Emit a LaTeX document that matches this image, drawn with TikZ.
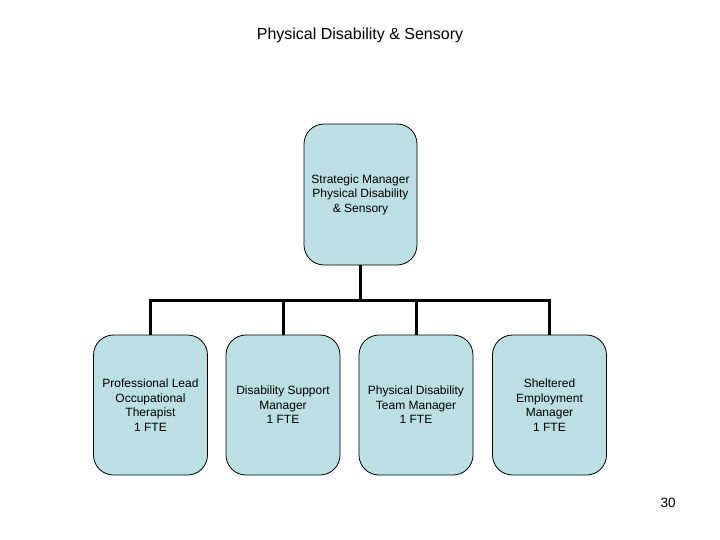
\documentclass[tikz,border=0pt]{standalone}
\usepackage{fontspec}
\setmainfont{Liberation Sans}
\usetikzlibrary{positioning, calc}
\definecolor{OrgFill}{HTML}{BBDFE3}
\definecolor{OrgLine}{HTML}{000000}

\tikzset{
  orgbox/.style={draw=OrgLine, line width=0.8pt, fill=OrgFill, rounded corners=20pt,
    minimum width=114pt, minimum height=140pt, align=center,
    font=\fontsize{12}{14.5}\selectfont, inner sep=2pt},
  orgline/.style={OrgLine, line width=3pt}
}

\begin{document}
\begin{tikzpicture}[x=1pt, y=-1pt]
  \useasboundingbox (0,0) rectangle (720,540);
  \node[font=\fontsize{16}{18}\selectfont] (title) at (360,35) {Physical Disability \& Sensory};
  \node[orgbox, minimum width=113pt, minimum height=141pt] (top) at (360.5,194.5)
    {Strategic Manager\\Physical Disability\\\& Sensory};
  \foreach \i/\xpos/\lbl in {
    1/150.5/{Professional Lead\\Occupational\\Therapist\\1 FTE},
    2/283/{Disability Support\\Manager\\1 FTE},
    3/416/{Physical Disability\\Team Manager\\1 FTE},
    4/549.5/{Sheltered\\Employment\\Manager\\1 FTE}}{
    \node[orgbox] (b\i) at (\xpos,405) {\lbl};
  }
  \coordinate (bus) at (360,300);
  \draw[orgline] (top.south) -- (top.south |- bus);
  \draw[orgline] (b1.north) -- (b1.north |- bus) -- (b4.north |- bus) -- (b4.north);
  \draw[orgline] (b2.north) -- (b2.north |- bus);
  \draw[orgline] (b3.north) -- (b3.north |- bus);
  \node[font=\fontsize{13.5}{16}\selectfont] (page) at (668,503) {30};
\end{tikzpicture}
\end{document}
